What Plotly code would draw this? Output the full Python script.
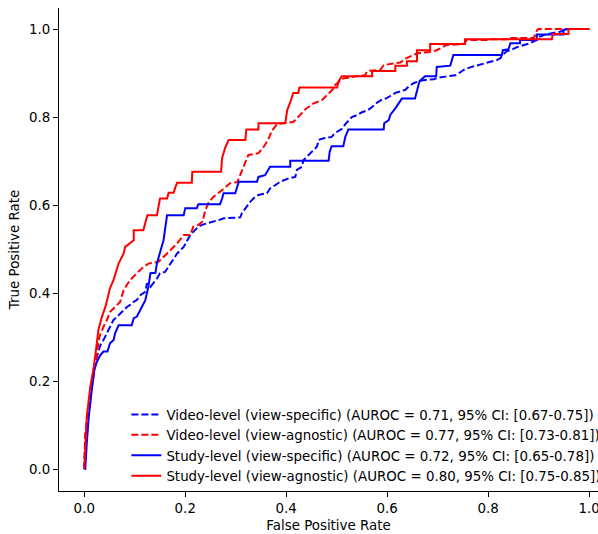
import plotly.graph_objects as go

# ---- data (FPR, TPR vertices of each step curve) ----
video_specific_fpr = [0, 0.002, 0.006, 0.012, 0.018, 0.025, 0.032, 0.038, 0.045, 0.051, 0.058, 0.065, 0.071, 0.078,
                      0.085, 0.091, 0.098, 0.104, 0.111, 0.121, 0.124, 0.131, 0.144, 0.150, 0.160, 0.167, 0.177,
                      0.184, 0.197, 0.203, 0.210, 0.216, 0.226, 0.233, 0.243, 0.253, 0.269, 0.276, 0.309, 0.312,
                      0.322, 0.329, 0.339, 0.345, 0.362, 0.368, 0.378, 0.388, 0.405, 0.418, 0.421, 0.431, 0.434,
                      0.444, 0.451, 0.461, 0.464, 0.474, 0.490, 0.497, 0.510, 0.517, 0.530, 0.537, 0.550, 0.562,
                      0.570, 0.580, 0.590, 0.599, 0.606, 0.616, 0.622, 0.636, 0.642, 0.652, 0.661, 0.672, 0.692,
                      0.702, 0.715, 0.725, 0.735, 0.745, 0.751, 0.764, 0.778, 0.784, 0.797, 0.804, 0.818, 0.824,
                      0.830, 0.837, 0.844, 0.857, 0.863, 0.870, 0.883, 0.890, 0.896, 0.903, 0.916, 0.923, 0.943,
                      0.949, 0.956, 1.0]
video_specific_tpr = [0, 0.066, 0.111, 0.168, 0.225, 0.255, 0.282, 0.293, 0.308, 0.323, 0.339, 0.346, 0.354, 0.361,
                      0.369, 0.373, 0.380, 0.384, 0.395, 0.403, 0.422, 0.414, 0.433, 0.445, 0.448, 0.460, 0.479,
                      0.490, 0.505, 0.517, 0.532, 0.539, 0.551, 0.555, 0.558, 0.562, 0.567, 0.570, 0.572, 0.581,
                      0.596, 0.608, 0.619, 0.623, 0.627, 0.638, 0.645, 0.653, 0.661, 0.664, 0.680, 0.687, 0.702,
                      0.714, 0.721, 0.733, 0.748, 0.752, 0.755, 0.764, 0.773, 0.784, 0.800, 0.803, 0.811, 0.816,
                      0.823, 0.833, 0.840, 0.843, 0.848, 0.855, 0.857, 0.862, 0.869, 0.877, 0.881, 0.884, 0.886,
                      0.890, 0.892, 0.894, 0.895, 0.902, 0.907, 0.913, 0.917, 0.920, 0.923, 0.926, 0.930, 0.934,
                      0.943, 0.950, 0.952, 0.959, 0.961, 0.962, 0.968, 0.972, 0.975, 0.983, 0.989, 0.990, 0.994,
                      0.998, 1.0, 1.0]

video_agnostic_fpr = [0, 0.002, 0.009, 0.015, 0.020, 0.025, 0.030, 0.038, 0.045, 0.051, 0.061, 0.071, 0.078, 0.091,
                      0.104, 0.114, 0.127, 0.147, 0.164, 0.184, 0.197, 0.210, 0.216, 0.226, 0.234, 0.240, 0.246,
                      0.255, 0.273, 0.289, 0.303, 0.309, 0.315, 0.325, 0.345, 0.354, 0.364, 0.372, 0.382, 0.401,
                      0.414, 0.421, 0.431, 0.438, 0.454, 0.461, 0.471, 0.481, 0.494, 0.497, 0.510, 0.513, 0.527,
                      0.537, 0.556, 0.561, 0.586, 0.593, 0.612, 0.626, 0.636, 0.659, 0.685, 0.698, 0.718, 0.751,
                      0.758, 0.797, 0.804, 0.837, 0.844, 0.890, 0.897, 0.899, 1.0]
video_agnostic_tpr = [0, 0.082, 0.142, 0.187, 0.225, 0.264, 0.301, 0.323, 0.339, 0.357, 0.369, 0.380, 0.407, 0.430,
                      0.445, 0.456, 0.467, 0.471, 0.490, 0.513, 0.532, 0.532, 0.551, 0.555, 0.562, 0.589, 0.605,
                      0.618, 0.634, 0.650, 0.652, 0.668, 0.686, 0.714, 0.718, 0.730, 0.748, 0.770, 0.784, 0.787,
                      0.789, 0.797, 0.808, 0.818, 0.831, 0.835, 0.839, 0.850, 0.865, 0.873, 0.884, 0.888, 0.890,
                      0.893, 0.895, 0.905, 0.907, 0.918, 0.922, 0.924, 0.933, 0.945, 0.948, 0.952, 0.964, 0.966,
                      0.975, 0.975, 0.977, 0.977, 0.980, 0.980, 0.998, 1.0, 1.0]

study_specific_fpr = [0, 0.002, 0.005, 0.009, 0.015, 0.020, 0.025, 0.032, 0.038, 0.046, 0.051, 0.058, 0.061, 0.068,
                      0.094, 0.098, 0.104, 0.111, 0.117, 0.121, 0.124, 0.127, 0.131, 0.141, 0.144, 0.154, 0.157,
                      0.164, 0.197, 0.200, 0.223, 0.226, 0.269, 0.273, 0.276, 0.299, 0.302, 0.306, 0.342, 0.345,
                      0.358, 0.362, 0.368, 0.408, 0.408, 0.484, 0.486, 0.490, 0.513, 0.517, 0.523, 0.593, 0.594,
                      0.603, 0.606, 0.616, 0.629, 0.655, 0.659, 0.664, 0.675, 0.697, 0.698, 0.725, 0.728, 0.731,
                      0.827, 0.829, 0.840, 0.844, 0.863, 0.863, 0.896, 0.896, 0.949, 0.949, 0.959, 1.0]
study_specific_tpr = [0, 0.0, 0.058, 0.119, 0.180, 0.225, 0.244, 0.259, 0.267, 0.267, 0.286, 0.293, 0.308, 0.327,
                      0.327, 0.343, 0.346, 0.361, 0.373, 0.384, 0.399, 0.414, 0.445, 0.446, 0.468, 0.505, 0.520,
                      0.577, 0.577, 0.593, 0.593, 0.602, 0.602, 0.615, 0.627, 0.627, 0.638, 0.653, 0.653, 0.664,
                      0.668, 0.676, 0.687, 0.687, 0.701, 0.701, 0.721, 0.734, 0.734, 0.755, 0.772, 0.772, 0.786,
                      0.793, 0.805, 0.820, 0.842, 0.842, 0.861, 0.882, 0.893, 0.893, 0.914, 0.917, 0.930, 0.941,
                      0.941, 0.952, 0.954, 0.968, 0.968, 0.975, 0.975, 0.988, 0.988, 0.998, 1.0, 1.0]

study_agnostic_fpr = [0, 0.002, 0.005, 0.012, 0.018, 0.024, 0.028, 0.035, 0.042, 0.051, 0.058, 0.068, 0.078, 0.081,
                      0.098, 0.098, 0.117, 0.125, 0.144, 0.150, 0.164, 0.167, 0.177, 0.180, 0.184, 0.213, 0.214,
                      0.271, 0.273, 0.279, 0.286, 0.319, 0.321, 0.345, 0.345, 0.398, 0.402, 0.408, 0.414, 0.424,
                      0.426, 0.501, 0.503, 0.510, 0.570, 0.570, 0.616, 0.616, 0.639, 0.639, 0.659, 0.659, 0.685,
                      0.685, 0.754, 0.754, 0.926, 0.928, 0.959, 0.959, 1.0]
study_agnostic_tpr = [0, 0.058, 0.119, 0.187, 0.225, 0.278, 0.316, 0.346, 0.369, 0.411, 0.430, 0.467, 0.490, 0.505,
                      0.520, 0.543, 0.543, 0.577, 0.577, 0.615, 0.615, 0.628, 0.628, 0.639, 0.651, 0.651, 0.676,
                      0.676, 0.707, 0.730, 0.748, 0.748, 0.772, 0.772, 0.786, 0.786, 0.816, 0.834, 0.855, 0.855,
                      0.867, 0.867, 0.880, 0.893, 0.893, 0.905, 0.905, 0.917, 0.917, 0.927, 0.927, 0.952, 0.952,
                      0.966, 0.966, 0.977, 0.977, 0.989, 0.989, 1.0, 1.0]

series_names = [
    "Video-level (view-specific) (AUROC = 0.71, 95% CI: [0.67-0.75])",
    "Video-level (view-agnostic) (AUROC = 0.77, 95% CI: [0.73-0.81])",
    "Study-level (view-specific) (AUROC = 0.72, 95% CI: [0.65-0.78])",
    "Study-level (view-agnostic) (AUROC = 0.80, 95% CI: [0.75-0.85])",
]
x_ticks = [0.0, 0.2, 0.4, 0.6, 0.8, 1.0]
y_ticks = [0.0, 0.2, 0.4, 0.6, 0.8, 1.0]

FONT = "DejaVu Sans"
FS = 13.4
series = [
    (video_specific_fpr, video_specific_tpr, "#0000ff", "7px,3px"),
    (video_agnostic_fpr, video_agnostic_tpr, "#ff0000", "7px,3px"),
    (study_specific_fpr, study_specific_tpr, "#0000ff", "solid"),
    (study_agnostic_fpr, study_agnostic_tpr, "#ff0000", "solid"),
]

fig = go.Figure()
for (fx, ty, col, dash), name in zip(series, series_names):
    fig.add_trace(go.Scatter(x=fx, y=ty, mode="lines", name=name,
                             line=dict(color=col, width=2, dash=dash)))

axis_common = dict(showline=True, linecolor="black", linewidth=1, ticks="outside", ticklen=5,
                   tickwidth=1, tickcolor="black", showgrid=False, zeroline=False, mirror=False,
                   ticklabeloverflow="allow",
                   tickfont=dict(family=FONT, size=FS, color="black"))

fig.update_layout(
    width=598, height=534,
    margin=dict(l=59, r=0, t=8, b=43, autoexpand=False),
    paper_bgcolor="white", plot_bgcolor="white",
    font=dict(family=FONT, size=FS, color="black"),
    xaxis=dict(range=[-0.05, 1.0174], tickvals=x_ticks, tickformat=".1f",
               title=dict(text="False Positive Rate", font=dict(family=FONT, size=FS), standoff=5),
               **axis_common),
    yaxis=dict(range=[-0.05, 1.048], tickvals=y_ticks, tickformat=".1f",
               title=dict(text="True Positive Rate", font=dict(family=FONT, size=FS), standoff=6),
               **axis_common),
    legend=dict(x=0.125, y=0.19, xanchor="left", yanchor="top", bgcolor="rgba(255,255,255,0)",
                borderwidth=0, font=dict(family=FONT, size=FS, color="black"), itemwidth=30,
                tracegroupgap=0),
    showlegend=True,
)

# remove the browser's default 8px page margin so the figure sits at the window's corner
fig.write_html("out.html", config={"displayModeBar": False},
               post_script="document.body.style.margin='0';")
